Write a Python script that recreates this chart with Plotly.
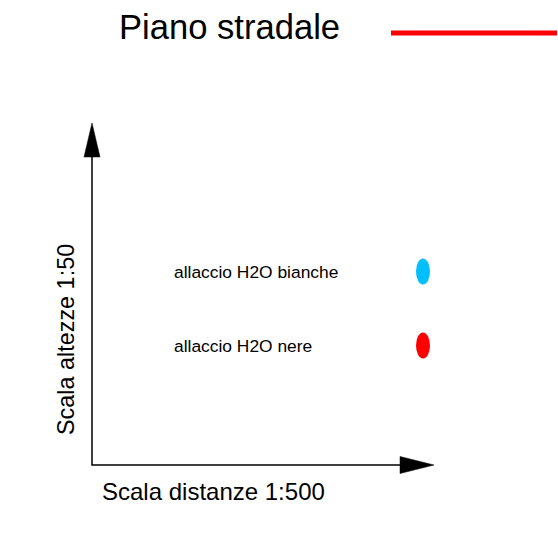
import plotly.graph_objects as go

# ---- data ----
title_text = "Piano stradale"
x_axis_label = "Scala distanze 1:500"
y_axis_label = "Scala altezze 1:50"
legend_labels = ["allaccio H2O bianche", "allaccio H2O nere"]
legend_colors = ["#00BFFF", "#FF0000"]
road_color = "#FF0000"

W, H = 558, 540
FONT = "Liberation Sans, Arial, sans-serif"

fig = go.Figure()

# axis lines
fig.add_trace(go.Scatter(x=[92, 92, 402], y=[155, 465, 465], mode="lines",
                         line=dict(color="black", width=1.5), hoverinfo="skip"))
# arrowheads
fig.add_trace(go.Scatter(x=[84, 92, 100, 84], y=[157, 123, 157, 157], mode="lines",
                         fill="toself", fillcolor="black", line=dict(color="black", width=0.5),
                         hoverinfo="skip"))
fig.add_trace(go.Scatter(x=[400, 434, 400, 400], y=[456.5, 465, 473.5, 456.5], mode="lines",
                         fill="toself", fillcolor="black", line=dict(color="black", width=0.5),
                         hoverinfo="skip"))
# road line
fig.add_trace(go.Scatter(x=[391, 557], y=[33, 33], mode="lines",
                         line=dict(color=road_color, width=5), hoverinfo="skip"))

shapes = []
annotations = []
row_y = [271.5, 345.5]
for lab, col, yy in zip(legend_labels, legend_colors, row_y):
    shapes.append(dict(type="circle", xref="x", yref="y", x0=416, x1=430,
                       y0=yy - 13, y1=yy + 13, fillcolor=col, line=dict(width=0)))
    annotations.append(dict(x=172, y=yy, xref="x", yref="y", text=lab, showarrow=False,
                            xanchor="left", yanchor="middle",
                            font=dict(family=FONT, size=17.4, color="black")))

annotations.append(dict(x=117, y=27, xref="x", yref="y", text=title_text, showarrow=False,
                        xanchor="left", yanchor="middle",
                        font=dict(family=FONT, size=34.6, color="black")))
annotations.append(dict(x=100, y=491.5, xref="x", yref="y", text=x_axis_label, showarrow=False,
                        xanchor="left", yanchor="middle",
                        font=dict(family=FONT, size=24, color="black")))
annotations.append(dict(x=66, y=340, xref="x", yref="y", text=y_axis_label, showarrow=False,
                        xanchor="center", yanchor="middle", textangle=-90,
                        font=dict(family=FONT, size=23.4, color="black")))

fig.update_layout(
    width=W, height=H, margin=dict(l=0, r=0, t=0, b=0),
    paper_bgcolor="white", plot_bgcolor="white", showlegend=False,
    xaxis=dict(range=[0, W], visible=False, fixedrange=True),
    yaxis=dict(range=[H, 0], visible=False, fixedrange=True),
    shapes=shapes, annotations=annotations,
)

fig.write_html("out.html", config={"displayModeBar": False},
               post_script="document.body.style.margin='0';document.body.style.overflow='hidden';")
